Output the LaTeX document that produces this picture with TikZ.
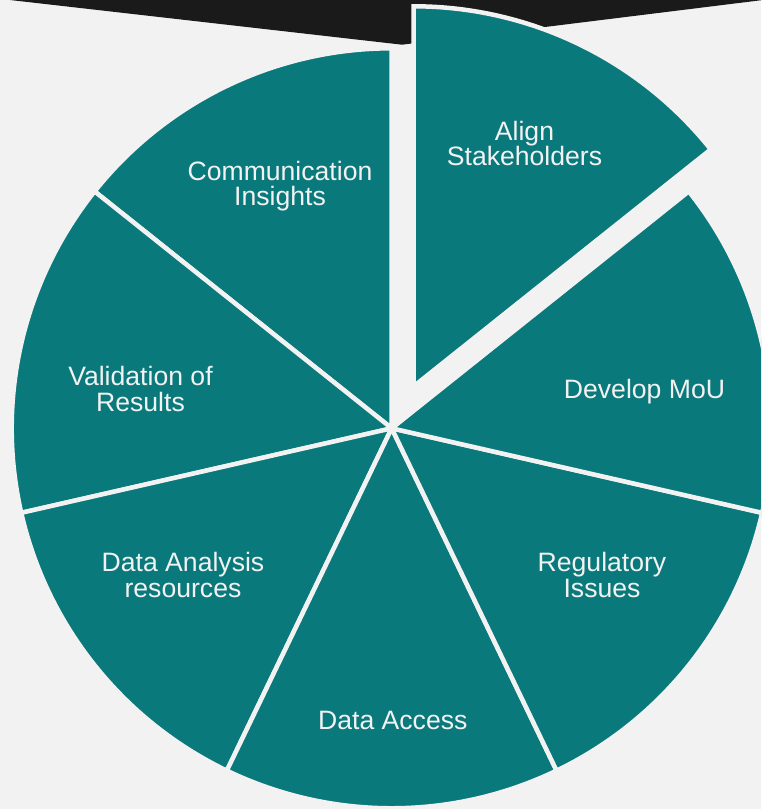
\documentclass[tikz,border=0pt]{standalone}
\usepackage{fontspec}
\setmainfont{Liberation Sans}

\definecolor{pieteal}{HTML}{0A797C}
\definecolor{piebg}{HTML}{F2F2F2}
\definecolor{piedark}{HTML}{1A1A1A}

\begin{document}
\begin{tikzpicture}[x=1pt, y=1pt,
  slice/.style={fill=pieteal, draw=piebg, line width=4.5pt, line join=miter},
  lbl/.style={text=piebg, font=\fontsize{26.6}{25.6}\selectfont, align=center, text depth=0pt}]
\useasboundingbox (-391.7,-380.7) rectangle (369.3,428.3);
\begin{scope}
  \clip (-391.7,-380.7) rectangle (369.3,428.3);
  \fill [piebg] (-391.7,-380.7) rectangle (369.3,428.3);
  \fill [piedark] (-381.7,440) -- (-381.7,428.3) -- (10.3,383.6) -- (371.3,428.3) -- (371.3,440) -- cycle;
  \foreach \a in {0,...,5}
    {	\draw [slice] (0,0) -- ({90+\a*360/7}:380) arc ({90+\a*360/7}:{90+(\a+1)*360/7}:380) -- cycle;
    }
  % the one pulled out
  \draw [slice, shift={(22,42)}] (0,0) -- ({90-360/7}:380) arc ({90-360/7}:90:380) -- cycle;
\end{scope}
\node [lbl] (align) at (132.8,285) {Align\\Stakeholders};
\node [lbl] (comm) at (-111.7,244.9) {Communication\\Insights};
\node [lbl] (valid) at (-251.2,39.3) {Validation of\\Results};
\node [lbl] (mou) at (252.8,39.3) {Develop MoU};
\node [lbl] (regul) at (210.3,-146.7) {Regulatory\\Issues};
\node [lbl] (analysis) at (-208.7,-146.7) {Data Analysis\\resources};
\node [lbl] (access) at (1.1,-292.2) {Data Access};
\end{tikzpicture}
\end{document}
